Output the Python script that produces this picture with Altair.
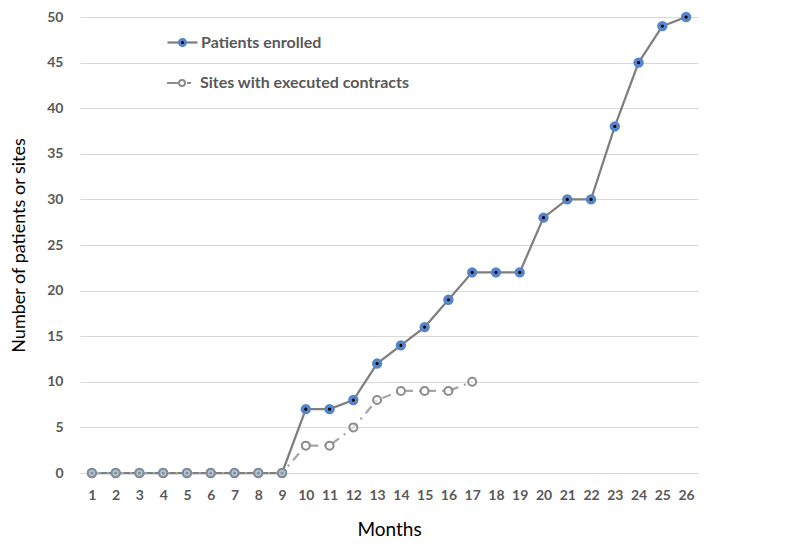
import altair as alt
import pandas as pd

S1 = "Patients enrolled"
S2 = "Sites with executed contracts"

months = list(range(1, 27))
patients = [0, 0, 0, 0, 0, 0, 0, 0, 0, 7, 7, 8, 12, 14, 16, 19, 22, 22, 22, 28, 30, 30, 38, 45, 49, 50]
site_months = list(range(1, 18))
sites = [0, 0, 0, 0, 0, 0, 0, 0, 0, 3, 3, 5, 8, 9, 9, 9, 10]
y_ticks = list(range(0, 51, 5))

df = pd.DataFrame({
    "month": months + site_months,
    "value": patients + sites,
    "series": [S1] * len(months) + [S2] * len(site_months),
})

FONT = "Lato"
LABEL_GRAY = "#595959"
BLUE = "#5585c8"

x = alt.X("month:O", title="Months",
          axis=alt.Axis(labelAngle=0, ticks=False, domainColor="#d9d9d9", domainWidth=1.2,
                        labelFont=FONT, labelFontSize=14, labelFontWeight="bold",
                        labelColor=LABEL_GRAY, labelPadding=15,
                        titleFont=FONT, titleFontSize=19, titleFontWeight="normal",
                        titleColor="#000000", titlePadding=18))
y = alt.Y("value:Q", title="Number of patients or sites",
          scale=alt.Scale(domain=[0, 50]),
          axis=alt.Axis(values=y_ticks, domain=False, ticks=False, grid=True,
                        gridColor="#d9d9d9", gridWidth=1.2,
                        labelFont=FONT, labelFontSize=14, labelFontWeight="bold",
                        labelColor=LABEL_GRAY, labelPadding=17,
                        titleFont=FONT, titleFontSize=18, titleFontWeight="normal",
                        titleColor="#000000", titlePadding=18))

pat_line_path = "M-1,0H1"
site_path = ("M-1,0H-0.27M0.33,0H0.6"
             "M-0.2,0A0.2,0.2,0,1,1,0.2,0A0.2,0.2,0,1,1,-0.2,0Z")
dot_path = "M-0.2,0A0.2,0.2,0,1,1,0.2,0A0.2,0.2,0,1,1,-0.2,0Z"

LX, LY, ROW = 86, 9, 41
common_leg = dict(orient="none", legendX=LX, title=None, padding=0,
                  symbolSize=900, labelFont=FONT, labelFontSize=16, labelFontWeight="bold",
                  labelColor=LABEL_GRAY, labelOffset=2, labelLimit=400)

leg_a = alt.Legend(**common_leg, legendY=LY, symbolType=pat_line_path,
                   symbolStrokeWidth=2.25, symbolOpacity=1)
leg_b = alt.Legend(**common_leg, legendY=LY + ROW, symbolType=site_path,
                   symbolStrokeWidth=2, symbolOpacity=1)
leg_c = alt.Legend(**common_leg, legendY=LY, symbolType=dot_path,
                   symbolStrokeWidth=3, labelExpr="''", zindex=2)

base = alt.Chart(df)

line_p = base.transform_filter(alt.datum.series == S1).mark_line(
    strokeWidth=2.25).encode(
    x=x, y=y,
    stroke=alt.Stroke("series:N", scale=alt.Scale(domain=[S1], range=["#7f7f7f"]), legend=leg_a))
line_s = base.transform_filter(alt.datum.series == S2).mark_line(
    color="#a6a6a6", strokeWidth=2.25, strokeDash=[9, 6, 2, 6]).encode(x=x, y=y)

pts_p = base.transform_filter(alt.datum.series == S1).transform_calculate(
    key="'dot'"
).mark_point(
    shape="circle", filled=True, size=46, fill="#000000", stroke=BLUE, strokeWidth=3.6
).encode(x=x, y=y,
         opacity=alt.Opacity("key:N", scale=alt.Scale(domain=["dot"], range=[1]), legend=leg_c))

pts_s = base.transform_filter(alt.datum.series == S2).mark_point(
    shape="circle", filled=False, size=64, stroke="#8c8c8c", strokeWidth=2,
    fillOpacity=0.55, opacity=1
).encode(x=x, y=y,
         fill=alt.Fill("series:N", scale=alt.Scale(domain=[S2], range=["#ffffff"]), legend=leg_b))

chart = alt.layer(line_p, line_s, pts_p, pts_s).properties(
    width=618, height=456,
    autosize=alt.AutoSizeParams(type="none"),
    padding={"left": 72, "top": 9, "right": 40, "bottom": 67},
    background="#ffffff",
).configure_view(stroke=None)

chart.save("out.html", embed_options={"renderer": "svg", "actions": False})
